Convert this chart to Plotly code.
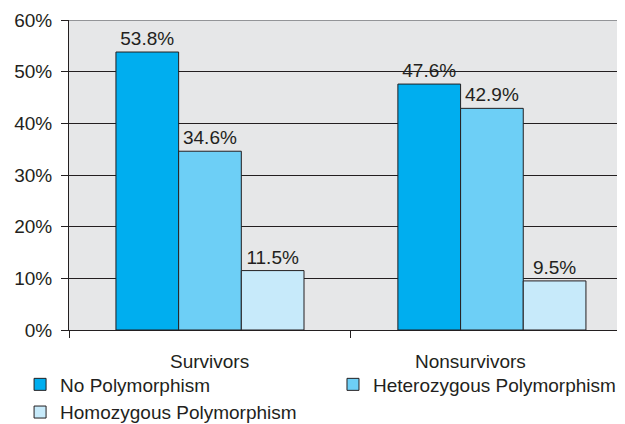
import plotly.graph_objects as go

categories = ["Survivors", "Nonsurvivors"]
series_names = ["No Polymorphism", "Heterozygous Polymorphism", "Homozygous Polymorphism"]
no_poly = [53.8, 47.6]
hetero = [34.6, 42.9]
homo = [11.5, 9.5]
y_ticks = [0, 10, 20, 30, 40, 50, 60]
y_tick_labels = ["0%", "10%", "20%", "30%", "40%", "50%", "60%"]

colors = ["#00AEEF", "#6DCFF6", "#C7EAFA"]
legend_slots = ["legend", "legend2", "legend"]
ink = "#231F20"
font_family = "Liberation Sans, Arial, sans-serif"

fig = go.Figure()
for name, vals, col, lg in zip(series_names, [no_poly, hetero, homo], colors, legend_slots):
    fig.add_trace(go.Bar(
        x=categories, y=vals, name=name, legend=lg,
        marker=dict(color=col, line=dict(color=ink, width=1)),
        text=[f"{v:.1f}%" for v in vals], textposition="outside",
        textfont=dict(size=19, color=ink, family=font_family),
        cliponaxis=False,
    ))

legend_common = dict(orientation="v", xanchor="left", yanchor="top",
                     font=dict(size=19, color=ink), traceorder="normal",
                     tracegroupgap=0, itemclick=False, bgcolor="rgba(0,0,0,0)")

fig.update_layout(
    width=625, height=424,
    margin=dict(l=61, r=8, t=12, b=102, autoexpand=False),
    paper_bgcolor="white", plot_bgcolor="#E6E7E8",
    barmode="group", bargap=0.333, bargroupgap=0,
    font=dict(family=font_family, size=19, color=ink),
    showlegend=True,
    legend=dict(x=-0.088, y=-0.1145, **legend_common),
    legend2=dict(x=0.4748, y=-0.1145, **legend_common),
    xaxis=dict(range=[-0.5, 1.472], showticklabels=False, tickson="boundaries",
               ticks="outside", ticklen=7, tickcolor=ink, showline=True,
               linecolor=ink, linewidth=1, showgrid=False, zeroline=False, fixedrange=True),
    yaxis=dict(range=[0, 60], tickvals=y_ticks, ticktext=y_tick_labels,
               ticks="outside", ticklen=7, tickcolor=ink, showline=True,
               linecolor=ink, linewidth=1, gridcolor=ink, gridwidth=1,
               zeroline=False, ticklabelstandoff=5, tickfont=dict(size=19), fixedrange=True),
    shapes=[dict(type="line", xref="paper", yref="y", x0=0, x1=1, y0=60, y1=60,
                 line=dict(color="#939598", width=2))],
    annotations=[
        dict(x=0, y=0, xref="x", yref="paper", text=categories[0], showarrow=False,
             yanchor="middle", yshift=-31, font=dict(size=19, color=ink)),
        dict(x=0.925, y=0, xref="x", yref="paper", text=categories[1], showarrow=False,
             yanchor="middle", yshift=-31, font=dict(size=19, color=ink)),
    ],
)

fig.write_html("out.html")
